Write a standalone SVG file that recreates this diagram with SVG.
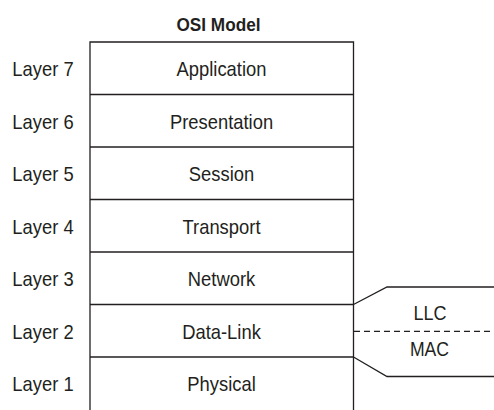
<svg xmlns="http://www.w3.org/2000/svg" width="494" height="410" viewBox="0 0 494 410">
<style>
.t{font-family:"Liberation Sans",Arial,sans-serif;font-size:20px;fill:#231f20;text-anchor:middle}
.title{font-family:"Liberation Sans",Arial,sans-serif;font-size:18.5px;font-weight:bold;fill:#231f20;text-anchor:middle}
.ln{stroke:#231f20;stroke-width:1.3;fill:none}
.dash{stroke:#231f20;stroke-width:1.3;fill:none;stroke-dasharray:6 4}
</style>
<rect width="494" height="410" fill="#fff"/>
<text class="title" transform="matrix(0.93 0 0 1 218.5 31)">OSI Model</text>
<g id="box">
<path class="ln" d="M90,410 V42 H353.5 V410"/>
</g>
<g id="layer7"><line class="ln" x1="90" y1="94.5" x2="353.5" y2="94.5"/><text class="t" transform="matrix(0.92 0 0 1 43 76.3)">Layer 7</text><text class="t" transform="matrix(0.92 0 0 1 221.5 76.3)">Application</text></g>
<g id="layer6"><line class="ln" x1="90" y1="147" x2="353.5" y2="147"/><text class="t" transform="matrix(0.92 0 0 1 43 128.8)">Layer 6</text><text class="t" transform="matrix(0.92 0 0 1 221.5 128.8)">Presentation</text></g>
<g id="layer5"><line class="ln" x1="90" y1="199.5" x2="353.5" y2="199.5"/><text class="t" transform="matrix(0.92 0 0 1 43 181.3)">Layer 5</text><text class="t" transform="matrix(0.92 0 0 1 221.5 181.3)">Session</text></g>
<g id="layer4"><line class="ln" x1="90" y1="252" x2="353.5" y2="252"/><text class="t" transform="matrix(0.92 0 0 1 43 233.8)">Layer 4</text><text class="t" transform="matrix(0.92 0 0 1 221.5 233.8)">Transport</text></g>
<g id="layer3"><line class="ln" x1="90" y1="304.5" x2="353.5" y2="304.5"/><text class="t" transform="matrix(0.92 0 0 1 43 286.3)">Layer 3</text><text class="t" transform="matrix(0.92 0 0 1 221.5 286.3)">Network</text></g>
<g id="layer2"><line class="ln" x1="90" y1="357" x2="353.5" y2="357"/><text class="t" transform="matrix(0.92 0 0 1 43 338.8)">Layer 2</text><text class="t" transform="matrix(0.92 0 0 1 221.5 338.8)">Data-Link</text></g>
<g id="layer1"><text class="t" transform="matrix(0.92 0 0 1 43 391.3)">Layer 1</text><text class="t" transform="matrix(0.92 0 0 1 221.5 391.3)">Physical</text></g>
<g id="connectors">
<path class="ln" d="M353.5,304.5 L387,287 H494"/>
<path class="ln" d="M353.5,357 L387,376.5 H494"/>
<line class="dash" x1="354" y1="331.3" x2="494" y2="331.3"/>
</g>
<g id="llc"><text class="t" transform="matrix(0.9 0 0 1 430 319.7)">LLC</text></g>
<g id="mac"><text class="t" transform="matrix(0.88 0 0 1 429.5 356)">MAC</text></g>
</svg>
